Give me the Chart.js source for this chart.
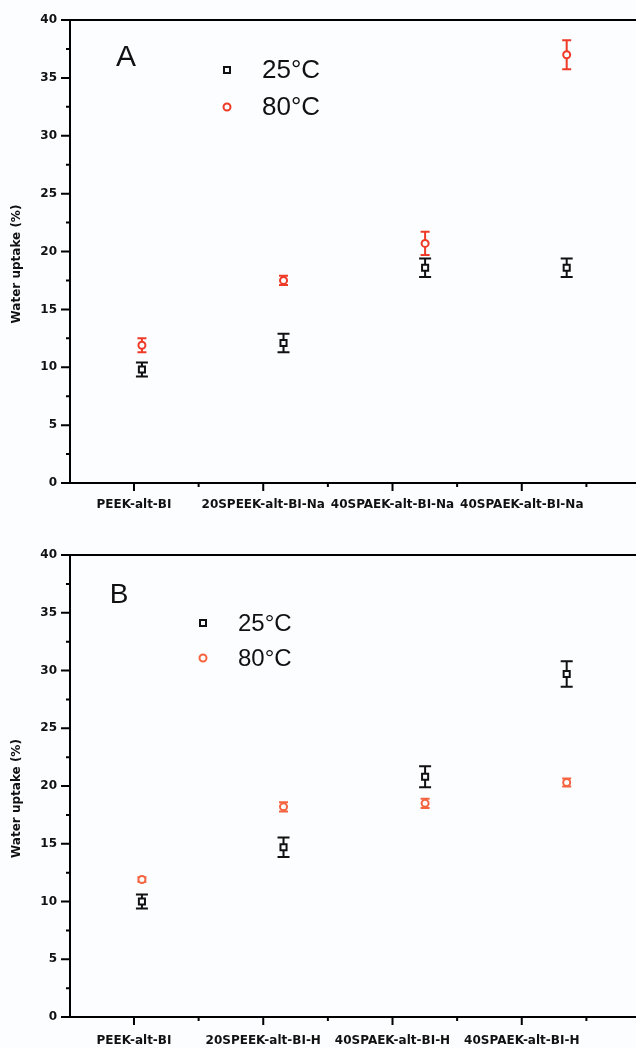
<!DOCTYPE html>
<html>
<head>
<meta charset="utf-8">
<script src="https://cdn.jsdelivr.net/npm/chart.js@4.4.1/dist/chart.umd.min.js"></script>
<style>
  body { margin: 0; background: #fcfdff; }
  .panel { position: absolute; left: 0; width: 636px; }
</style>
</head>
<body>
<div class="panel" style="top:0;height:520px"><canvas id="chartA" width="636" height="520"></canvas></div>
<div class="panel" style="top:520px;height:528px"><canvas id="chartB" width="636" height="528"></canvas></div>
<script>
// categories (panel A: Na form, panel B: H form)
const labelsA = ['PEEK-alt-BI', '20SPEEK-alt-BI-Na', '40SPAEK-alt-BI-Na', '40SPAEK-alt-BI-Na'];
const labelsB = ['PEEK-alt-BI', '20SPEEK-alt-BI-H', '40SPAEK-alt-BI-H', '40SPAEK-alt-BI-H'];

// water uptake (%) and error
const a25 = [9.8, 12.1, 18.6, 18.6];
const a25err = [0.6, 0.8, 0.8, 0.8];
const a80 = [11.9, 17.5, 20.7, 37.0];
const a80err = [0.6, 0.4, 1.0, 1.25];

const b25 = [10.0, 14.7, 20.8, 29.7];
const b25err = [0.6, 0.85, 0.9, 1.1];
const b80 = [11.9, 18.2, 18.5, 20.3];
const b80err = [0.2, 0.4, 0.4, 0.35];

const yMin = 0, yMax = 40, yStep = 5;

const FONT_TICK = { family: 'DejaVu Sans', weight: 'bold', size: 12 };

// error bars drawn under the markers
const errorBars = {
  id: 'errorBars',
  beforeDatasetsDraw(chart) {
    const ctx = chart.ctx, y = chart.scales.y;
    chart.data.datasets.forEach((ds, di) => {
      const meta = chart.getDatasetMeta(di);
      ctx.save();
      ctx.strokeStyle = ds.borderColor;
      ctx.lineWidth = 2;
      meta.data.forEach((pt, i) => {
        const v = ds.data[i].y, e = ds.err[i];
        const top = y.getPixelForValue(v + e), bot = y.getPixelForValue(v - e);
        const w = ds.capHalf;
        ctx.beginPath();
        ctx.moveTo(pt.x, top); ctx.lineTo(pt.x, bot);
        ctx.moveTo(pt.x - w, top); ctx.lineTo(pt.x + w, top);
        ctx.moveTo(pt.x - w, bot); ctx.lineTo(pt.x + w, bot);
        ctx.stroke();
      });
      ctx.restore();
    });
  }
};

// top frame line, major / minor tick marks, panel letter and legend
const frame = {
  id: 'frame',
  afterDraw(chart, args, opts) {
    const { ctx, chartArea: a, scales } = chart;
    const y = scales.y, xl = scales.xl;
    ctx.save();
    ctx.strokeStyle = '#000';
    ctx.lineWidth = 2;
    ctx.beginPath();
    ctx.moveTo(a.left - 1, a.top); ctx.lineTo(chart.width, a.top);
    ctx.moveTo(a.right - 1, a.bottom); ctx.lineTo(chart.width, a.bottom);
    for (let v = yMin; v <= yMax; v += yStep / 2) {
      const p = y.getPixelForValue(v);
      const len = v % yStep === 0 ? 9 : 4;
      ctx.moveTo(a.left - len, p); ctx.lineTo(a.left, p);
    }
    for (let v = Math.ceil(xl.min * 2) / 2; v <= xl.max; v += 0.5) {
      const p = xl.getPixelForValue(v);
      const len = Number.isInteger(v) ? 8 : 4;
      ctx.moveTo(p, a.bottom); ctx.lineTo(p, a.bottom + len);
    }
    ctx.stroke();

    // panel letter
    ctx.fillStyle = '#111';
    ctx.textAlign = 'center';
    ctx.textBaseline = 'middle';
    ctx.font = opts.letterSize + 'px "Liberation Sans", Arial, sans-serif';
    ctx.fillText(opts.letter, opts.letterX, opts.letterY);

    // legend
    ctx.font = opts.legendSize + 'px "Liberation Sans", Arial, sans-serif';
    ctx.textAlign = 'left';
    chart.data.datasets.forEach((ds, i) => {
      const my = opts.legendY + i * opts.legendGap;
      ctx.strokeStyle = ds.borderColor;
      ctx.lineWidth = 2;
      ctx.beginPath();
      if (ds.pointStyle === 'rect') ctx.rect(opts.legendX - 3, my - 3, 6, 6);
      else ctx.arc(opts.legendX, my, 3.5, 0, Math.PI * 2);
      ctx.stroke();
      ctx.fillStyle = '#111';
      ctx.fillText(ds.label, opts.legendX + opts.textGap, my + 1);
    });
    ctx.restore();
  }
};

function makeChart(id, labels, v25, e25, v80, e80, red, layout) {
  const pts = vals => vals.map((v, i) => ({ x: i + 1, y: v }));
  return new Chart(document.getElementById(id), {
    type: 'scatter',
    data: {
      datasets: [
        { label: '25°C', data: pts(v25), err: e25, capHalf: 6, pointStyle: 'rect',
          borderColor: '#111', pointBackgroundColor: '#fcfdff', pointBorderWidth: 2, pointRadius: 4.3 },
        { label: '80°C', data: pts(v80), err: e80, capHalf: 4.5, pointStyle: 'circle',
          borderColor: red, pointBackgroundColor: '#fcfdff', pointBorderWidth: 2, pointRadius: 3.5 }
      ]
    },
    options: {
      responsive: false,
      animation: false,
      devicePixelRatio: 1,
      layout: { padding: { top: layout.top, left: 0, right: 0, bottom: 0 } },
      plugins: {
        legend: { display: false },
        tooltip: { enabled: false },
        frame: layout.frame
      },
      scales: {
        x: { type: 'linear', min: 0.492, max: 4.445, display: false },
        xl: {
          type: 'linear', position: 'bottom', min: 0.505, max: 4.835,
          afterBuildTicks: s => { s.ticks = labels.map((l, i) => ({ value: i + 1 })); },
          afterFit: s => { s.height = layout.xHeight; },
          border: { color: '#000', width: 2 },
          grid: { drawOnChartArea: false, tickLength: 8, tickColor: 'rgba(0,0,0,0)' },
          ticks: { autoSkip: false, maxRotation: 0, padding: layout.xPad, color: '#111', font: FONT_TICK,
                   callback: v => labels[v - 1] }
        },
        y: {
          min: yMin, max: yMax,
          afterFit: s => { s.width = 70; },
          border: { color: '#000', width: 2 },
          grid: { drawOnChartArea: false, tickLength: 9, tickColor: 'rgba(0,0,0,0)' },
          ticks: { stepSize: yStep, padding: 4, color: '#111', font: FONT_TICK },
          title: { display: true, text: 'Water uptake (%)' + '\u00a0'.repeat(6), color: '#111',
                   font: { family: 'DejaVu Sans', weight: 'bold', size: 12 }, padding: { top: 10, bottom: 0 } }
        }
      }
    },
    plugins: [errorBars, frame]
  });
}

makeChart('chartA', labelsA, a25, a25err, a80, a80err, '#ee3a26', {
  top: 20, xHeight: 37, xPad: 7,
  frame: { letter: 'A', letterX: 126, letterY: 58, letterSize: 30,
           legendX: 227, legendY: 70, legendGap: 37, textGap: 35, legendSize: 26 }
});
makeChart('chartB', labelsB, b25, b25err, b80, b80err, '#f4643f', {
  top: 35, xHeight: 31, xPad: 9,
  frame: { letter: 'B', letterX: 119, letterY: 75, letterSize: 28,
           legendX: 203, legendY: 103, legendGap: 35, textGap: 35, legendSize: 24 }
});
</script>
</body>
</html>
